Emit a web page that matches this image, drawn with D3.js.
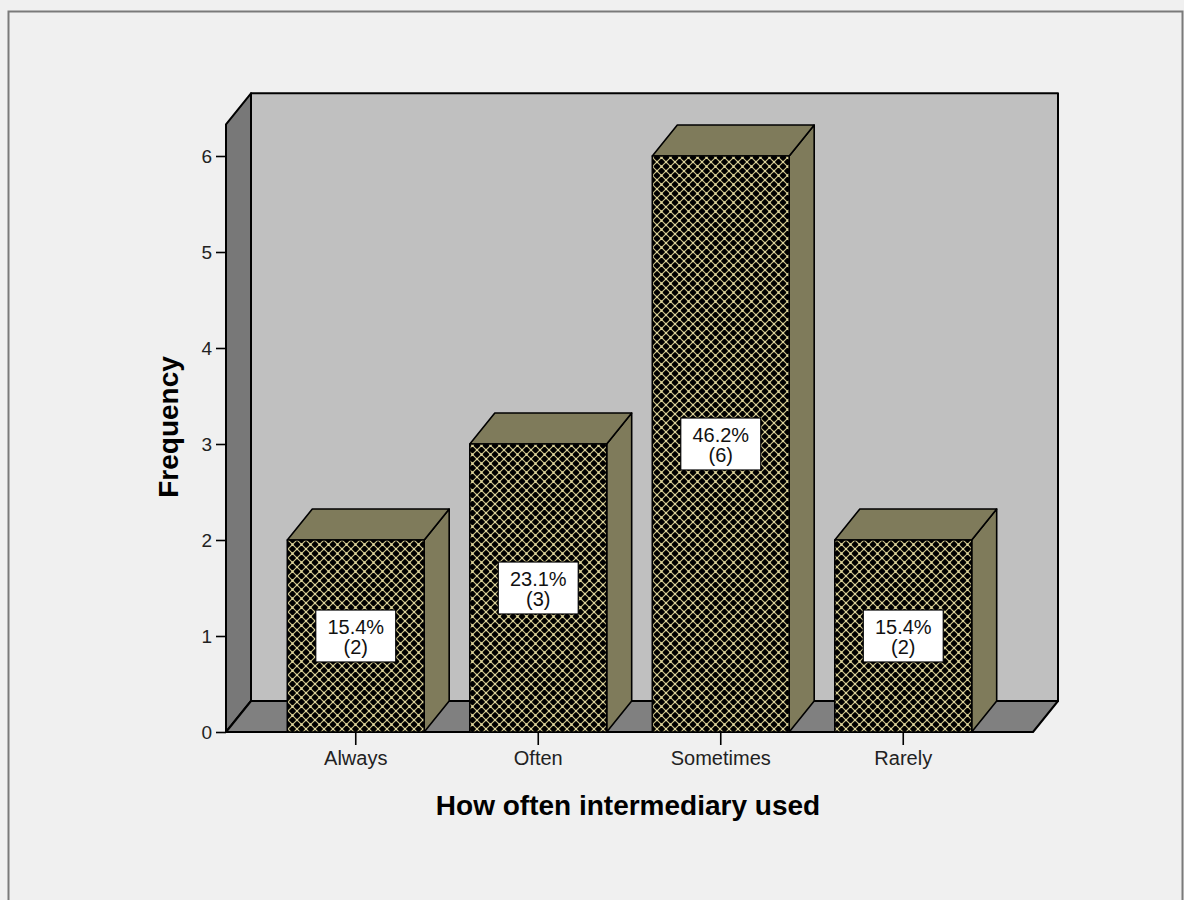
<!DOCTYPE html>
<html>
<head>
<meta charset="utf-8">
<script src="https://cdn.jsdelivr.net/npm/d3@7"></script>
<style>
  html, body { margin: 0; padding: 0; background: #f0f0f0; }
  svg { display: block; }
  text { font-family: "Liberation Sans", Arial, sans-serif; }
</style>
</head>
<body>
<svg id="chart" width="1184" height="900"></svg>
<script>
// Frequency of intermediary use
const categories = ["Always", "Often", "Sometimes", "Rarely"];
const counts = [2, 3, 6, 2];
const yTicks = [0, 1, 2, 3, 4, 5, 6];
const xTitle = "How often intermediary used";
const yTitle = "Frequency";

const total = d3.sum(counts);

const svg = d3.select("#chart");
const W = 1184, H = 900;

// outer frame
svg.append("rect").attr("x", 0).attr("y", 0).attr("width", W).attr("height", H).attr("fill", "#f0f0f0");
svg.append("path")
  .attr("d", "M8.5,900 V11.5 H1182.5 V900")
  .attr("fill", "none").attr("stroke", "#7a7a7a").attr("stroke-width", 2);

// depth offset of the 3-D look
const DX = 25, DY = -31;

const y = d3.scaleLinear().domain([0, 6]).range([732, 156]);
const yWallTop = y(6.33);
const floorX0 = 226, floorX1 = 1033;

const x = d3.scaleBand()
  .domain(categories)
  .range([264.5, 994.5])
  .paddingInner(0.25)
  .paddingOuter(0.125);

// lattice hatch for bar fronts
const P = 9;
const defs = svg.append("defs");
const pat = defs.append("pattern")
  .attr("id", "hatch")
  .attr("patternUnits", "userSpaceOnUse")
  .attr("width", P).attr("height", P);
pat.append("rect").attr("width", P).attr("height", P).attr("fill", "#000");
pat.append("path")
  .attr("d", `M-1,1 L1,-1 M0,${P} L${P},0 M${P - 1},${P + 1} L${P + 1},${P - 1} M-1,${P - 1} L1,${P + 1} M0,0 L${P},${P} M${P - 1},-1 L${P + 1},1`)
  .attr("stroke", "#cfc58c").attr("stroke-width", 1.15);
pat.selectAll("circle.node")
  .data([[0, 0], [P, 0], [0, P], [P, P], [P / 2, P / 2]])
  .join("circle")
  .attr("cx", d => d[0]).attr("cy", d => d[1]).attr("r", 1.2)
  .attr("fill", "#ddd49c");

const wall = svg.append("g").attr("stroke", "#000").attr("stroke-width", 2).attr("stroke-linejoin", "round");

// back wall
wall.append("path")
  .attr("d", `M${floorX0 + DX},${yWallTop + DY} H${floorX1 + DX} V${y(0) + DY} H${floorX0 + DX} Z`)
  .attr("fill", "#c0c0c0");
// left side wall
wall.append("path")
  .attr("d", `M${floorX0},${yWallTop} L${floorX0 + DX},${yWallTop + DY} V${y(0) + DY} L${floorX0},${y(0)} Z`)
  .attr("fill", "#787878");
// floor
wall.append("path")
  .attr("d", `M${floorX0},${y(0)} L${floorX0 + DX},${y(0) + DY} H${floorX1 + DX} L${floorX1},${y(0)} Z`)
  .attr("fill", "#808080");

// bars
const bars = svg.append("g").attr("stroke", "#000").attr("stroke-width", 1.6).attr("stroke-linejoin", "round");
categories.forEach((c, i) => {
  const x0 = x(c), x1 = x(c) + x.bandwidth();
  const yt = y(counts[i]), yb = y(0);
  const g = bars.append("g");
  // right side
  g.append("path")
    .attr("d", `M${x1},${yt} L${x1 + DX},${yt + DY} V${yb + DY} L${x1},${yb} Z`)
    .attr("fill", "#7f7b5b");
  // top
  g.append("path")
    .attr("d", `M${x0},${yt} L${x0 + DX},${yt + DY} H${x1 + DX} L${x1},${yt} Z`)
    .attr("fill", "#7f7b5b");
  // front
  g.append("rect")
    .attr("x", x0).attr("y", yt).attr("width", x.bandwidth()).attr("height", yb - yt)
    .attr("fill", "url(#hatch)");
});

// y axis
const yAxisG = svg.append("g").attr("transform", `translate(${floorX0},0)`);
yAxisG.call(d3.axisLeft(y).tickValues(yTicks).tickSize(10).tickPadding(4).tickFormat(d3.format("d")));
yAxisG.select(".domain").remove();
yAxisG.selectAll(".tick line").attr("stroke", "#000").attr("stroke-width", 1.6);
yAxisG.selectAll(".tick text")
  .attr("fill", "#222").attr("font-size", 19)
  .style("font-family", "'Liberation Sans', Arial, sans-serif");

// x axis
const xAxisG = svg.append("g").attr("transform", `translate(0,${y(0)})`);
xAxisG.call(d3.axisBottom(x).tickSize(13).tickPadding(6));
xAxisG.select(".domain").remove();
xAxisG.selectAll(".tick line").attr("stroke", "#000").attr("stroke-width", 1.6);
xAxisG.selectAll(".tick text")
  .attr("fill", "#222").attr("font-size", 20)
  .style("font-family", "'Liberation Sans', Arial, sans-serif");

// value labels
const fmt = d3.format(".1f");
const labels = svg.append("g");
categories.forEach((c, i) => {
  const cx = x(c) + x.bandwidth() / 2;
  const cy = y(counts[i] / 2);
  const bw = 80, bh = 52;
  const g = labels.append("g").attr("transform", `translate(${cx},${cy})`);
  g.append("rect")
    .attr("x", -bw / 2).attr("y", -bh / 2).attr("width", bw).attr("height", bh)
    .attr("fill", "#fff").attr("stroke", "#000").attr("stroke-width", 1.2);
  g.append("text").attr("text-anchor", "middle").attr("y", -2)
    .attr("font-size", 20).attr("fill", "#111")
    .text(fmt(counts[i] / total * 100) + "%");
  g.append("text").attr("text-anchor", "middle").attr("y", 18)
    .attr("font-size", 20).attr("fill", "#111")
    .text(`(${counts[i]})`);
});

// axis titles
svg.append("text")
  .attr("x", 628).attr("y", 815)
  .attr("text-anchor", "middle").attr("font-size", 28).attr("font-weight", "bold").attr("fill", "#000")
  .text(xTitle);
svg.append("text")
  .attr("transform", `translate(178,${427}) rotate(-90)`)
  .attr("text-anchor", "middle").attr("font-size", 28).attr("font-weight", "bold").attr("fill", "#000")
  .text(yTitle);
</script>
</body>
</html>
